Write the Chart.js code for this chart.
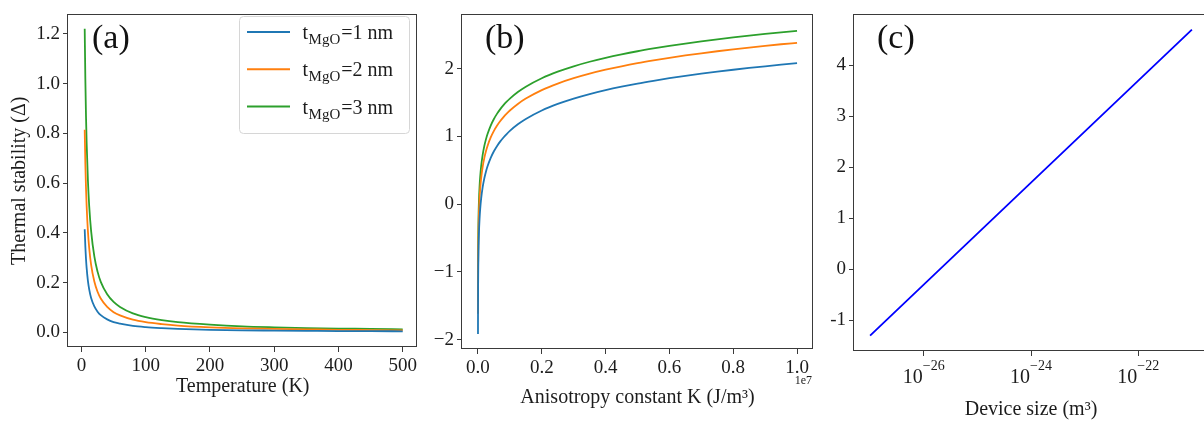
<!DOCTYPE html>
<html>
<head>
<meta charset="utf-8">
<script src="https://cdn.jsdelivr.net/npm/chart.js@4.4.1/dist/chart.umd.min.js"></script>
<style>
  html, body { margin: 0; padding: 0; background: #fff; overflow: hidden; }
  #wrap { position: relative; width: 1204px; height: 426px; }
  canvas { position: absolute; top: 0; }
</style>
</head>
<body>
<div id="wrap">
  <canvas id="panelA" width="420" height="426" style="left:0px"></canvas>
  <canvas id="panelB" width="400" height="426" style="left:420px"></canvas>
  <canvas id="panelC" width="392" height="426" style="left:820px"></canvas>
</div>
<script>
// ---- (a) thermal stability vs temperature ----
const temperatures = [5, 6, 7, 8, 10, 12, 15, 20, 25, 30, 40, 50, 60, 80, 100, 125, 150, 200, 250, 300, 350, 400, 450, 500];
const deltaT_1nm = [0.414, 0.345, 0.296, 0.259, 0.207, 0.173, 0.138, 0.104, 0.083, 0.069, 0.052, 0.041, 0.035, 0.026, 0.021, 0.017, 0.014, 0.010, 0.008, 0.007, 0.006, 0.005, 0.005, 0.004];
const deltaT_2nm = [0.814, 0.678, 0.581, 0.509, 0.407, 0.339, 0.271, 0.204, 0.163, 0.136, 0.102, 0.081, 0.068, 0.051, 0.041, 0.033, 0.027, 0.020, 0.016, 0.014, 0.012, 0.010, 0.009, 0.008];
const deltaT_3nm = [1.220, 1.017, 0.871, 0.763, 0.610, 0.508, 0.407, 0.305, 0.244, 0.203, 0.153, 0.122, 0.102, 0.076, 0.061, 0.049, 0.041, 0.031, 0.024, 0.020, 0.017, 0.015, 0.014, 0.012];
const tempTicks = [0, 100, 200, 300, 400, 500];
const tempTickLabels = ['0', '100', '200', '300', '400', '500'];
const deltaATicks = [0, 0.2, 0.4, 0.6, 0.8, 1.0, 1.2];
const deltaATickLabels = ['0.0', '0.2', '0.4', '0.6', '0.8', '1.0', '1.2'];

// ---- (b) thermal stability vs anisotropy constant ----
const anisotropyK = [1e3, 2e3, 5e3, 1e4, 2e4, 3e4, 5e4, 7e4, 1e5, 1.5e5, 2e5, 2.5e5, 3e5, 4e5, 5e5, 6e5, 7e5, 8e5, 9e5, 1e6,
                     1.25e6, 1.5e6, 2e6, 2.5e6, 3e6, 3.5e6, 4e6, 4.5e6, 5e6, 5.5e6, 6e6, 6.5e6, 7e6, 7.5e6, 8e6, 8.5e6, 9e6, 9.5e6, 1e7];
const deltaK_1nm = [-1.920, -1.619, -1.221, -0.920, -0.619, -0.443, -0.221, -0.075, 0.080, 0.256, 0.381, 0.478, 0.557, 0.682, 0.779, 0.858, 0.925, 0.983, 1.034, 1.080,
                    1.177, 1.256, 1.381, 1.478, 1.557, 1.624, 1.682, 1.733, 1.779, 1.820, 1.858, 1.893, 1.925, 1.955, 1.983, 2.009, 2.034, 2.058, 2.080];
const deltaK_2nm = [-1.619, -1.318, -0.920, -0.619, -0.318, -0.142, 0.080, 0.226, 0.381, 0.557, 0.682, 0.779, 0.858, 0.983, 1.080, 1.159, 1.226, 1.284, 1.335, 1.381,
                    1.478, 1.557, 1.682, 1.779, 1.858, 1.925, 1.983, 2.034, 2.080, 2.121, 2.159, 2.194, 2.226, 2.256, 2.284, 2.310, 2.335, 2.359, 2.381];
const deltaK_3nm = [-1.443, -1.142, -0.744, -0.443, -0.142, 0.034, 0.256, 0.402, 0.557, 0.733, 0.858, 0.955, 1.034, 1.159, 1.256, 1.335, 1.402, 1.460, 1.511, 1.557,
                    1.654, 1.733, 1.858, 1.955, 2.034, 2.101, 2.159, 2.210, 2.256, 2.297, 2.335, 2.370, 2.402, 2.432, 2.460, 2.486, 2.511, 2.535, 2.557];
const kTicks = [0, 2e6, 4e6, 6e6, 8e6, 1e7];
const kTickLabels = ['0.0', '0.2', '0.4', '0.6', '0.8', '1.0'];
const deltaBTicks = [-2, -1, 0, 1, 2];
const deltaBTickLabels = ['\u22122', '\u22121', '0', '1', '2'];

// ---- (c) thermal stability vs device volume ----
const deviceSizes = [1e-27, 1e-26, 1e-25, 1e-24, 1e-23, 1e-22, 1e-21];
const deltaSize = [-1.3, -0.3, 0.7, 1.7, 2.7, 3.7, 4.7];
const sizeTickExponents = [-26, -24, -22];
const deltaCTicks = [-1, 0, 1, 2, 3, 4];
const deltaCTickLabels = ['-1', '0', '1', '2', '3', '4'];

// legend text: t_MgO = n nm
const mgoThickness = [1, 2, 3];
const seriesColors = ['#1f77b4', '#ff7f0e', '#2ca02c'];

const serif = "'Liberation Serif', 'Times New Roman', serif";
const ink = '#1c1c1c';
const frameColor = '#3a3a3a';

Chart.defaults.font.family = serif;
Chart.defaults.color = ink;

function makeAxis(cfg) {
  const horizontal = cfg.axis === 'x';
  return {
    type: cfg.type || 'linear',
    position: horizontal ? 'bottom' : 'left',
    min: cfg.min,
    max: cfg.max,
    afterFit(scale) {
      if (horizontal) scale.height = cfg.size; else scale.width = cfg.size;
    },
    afterBuildTicks(scale) {
      scale.ticks = cfg.ticks.map(v => ({ value: v }));
    },
    ticks: {
      display: cfg.labels != null,
      callback: (v, i) => cfg.labels ? cfg.labels[i] : '',
      font: { family: serif, size: 19 },
      color: ink,
      padding: 3,
      maxRotation: 0,
      autoSkip: false
    },
    grid: { drawOnChartArea: false, tickLength: 5, color: frameColor, tickWidth: 1 },
    border: { display: false },
    title: cfg.title
      ? { display: true, text: cfg.title, font: { family: serif, size: 20 }, color: ink, padding: cfg.titlePad }
      : { display: false }
  };
}

function pairs(xs, ys) {
  return xs.map((x, i) => ({ x: x, y: ys[i] }));
}

function lineSet(xs, ys, color, smooth) {
  return {
    data: pairs(xs, ys),
    borderColor: color,
    borderWidth: 1.8,
    pointRadius: 0,
    fill: false,
    cubicInterpolationMode: smooth ? 'monotone' : 'default',
    tension: 0
  };
}

// box around the plot area, matplotlib style
const framePlugin = {
  id: 'frame',
  afterDatasetsDraw(chart) {
    const { ctx, chartArea: a } = chart;
    const l = Math.round(a.left), t = Math.round(a.top), r = Math.round(a.right), b = Math.round(a.bottom);
    ctx.save();
    ctx.strokeStyle = frameColor;
    ctx.lineWidth = 1;
    ctx.strokeRect(l - 0.5, t + 0.5, r - l, b - t - 1);
    ctx.restore();
  }
};

// "(a)", "(b)", "(c)" tags
const tagPlugin = {
  id: 'tag',
  afterDraw(chart, args, opts) {
    const { ctx } = chart;
    ctx.save();
    ctx.font = '34px ' + serif;
    ctx.fillStyle = '#111';
    ctx.textBaseline = 'alphabetic';
    ctx.fillText(opts.text, opts.x, opts.y);
    ctx.restore();
  }
};

// legend with MgO subscript for panel (a)
const subLegendPlugin = {
  id: 'subLegend',
  afterDraw(chart) {
    const { ctx } = chart;
    const box = { x: 239.5, y: 16.5, w: 170, h: 117 };
    ctx.save();
    ctx.beginPath();
    ctx.roundRect(box.x, box.y, box.w, box.h, 4);
    ctx.fillStyle = 'rgba(255,255,255,0.85)';
    ctx.fill();
    ctx.strokeStyle = '#d6d6d6';
    ctx.lineWidth = 1;
    ctx.stroke();
    chart.data.datasets.forEach((ds, i) => {
      const rowY = 32 + i * 37.3;
      ctx.strokeStyle = ds.borderColor;
      ctx.lineWidth = 2;
      ctx.beginPath();
      ctx.moveTo(247, rowY);
      ctx.lineTo(290, rowY);
      ctx.stroke();
      ctx.fillStyle = ink;
      ctx.textBaseline = 'alphabetic';
      let x = 302.5;
      ctx.font = '20px ' + serif;
      ctx.fillText('t', x, rowY + 7);
      x += ctx.measureText('t').width + 0.5;
      ctx.font = '15px ' + serif;
      ctx.fillText('MgO', x, rowY + 12);
      x += ctx.measureText('MgO').width + 1;
      ctx.font = '20px ' + serif;
      ctx.fillText('=' + mgoThickness[i] + ' nm', x, rowY + 7);
    });
    ctx.restore();
  }
};

// "1e7" offset text under the x axis of panel (b)
const offsetPlugin = {
  id: 'offsetText',
  afterDraw(chart) {
    const { ctx, chartArea: a } = chart;
    ctx.save();
    ctx.font = '12px ' + serif;
    ctx.fillStyle = ink;
    ctx.textAlign = 'right';
    ctx.textBaseline = 'alphabetic';
    ctx.fillText('1e7', a.right - 1, 384);
    ctx.restore();
  }
};

// 10^n tick labels for the log axis of panel (c)
const powerTickPlugin = {
  id: 'powerTicks',
  afterDraw(chart) {
    const { ctx } = chart;
    const scale = chart.scales.x;
    ctx.save();
    ctx.fillStyle = ink;
    ctx.textBaseline = 'alphabetic';
    sizeTickExponents.forEach(e => {
      const px = scale.getPixelForValue(Math.pow(10, e));
      const sup = '\u2212' + Math.abs(e);
      ctx.font = '20px ' + serif;
      const wBase = ctx.measureText('10').width;
      ctx.font = '14px ' + serif;
      const wSup = ctx.measureText(sup).width;
      const x0 = px - (wBase + wSup) / 2;
      ctx.font = '20px ' + serif;
      ctx.fillText('10', x0, 383);
      ctx.font = '14px ' + serif;
      ctx.fillText(sup, x0 + wBase, 370);
    });
    ctx.restore();
  }
};

const common = {
  responsive: false,
  animation: false,
  devicePixelRatio: 1,
  events: []
};

new Chart(document.getElementById('panelA'), {
  type: 'line',
  data: {
    datasets: [
      lineSet(temperatures, deltaT_1nm, seriesColors[0], true),
      lineSet(temperatures, deltaT_2nm, seriesColors[1], true),
      lineSet(temperatures, deltaT_3nm, seriesColors[2], true)
    ]
  },
  options: {
    ...common,
    layout: { padding: { top: 5, right: 1, left: 0, bottom: 0 } },
    scales: {
      x: makeAxis({ axis: 'x', min: -21, max: 523, size: 79, ticks: tempTicks, labels: tempTickLabels,
                    title: 'Temperature (K)', titlePad: { top: 0, bottom: 27 } }),
      y: makeAxis({ axis: 'y', min: -0.059, max: 1.278, size: 68, ticks: deltaATicks, labels: deltaATickLabels,
                    title: 'Thermal stability (\u0394)', titlePad: { top: 8, bottom: 0 } })
    },
    plugins: {
      legend: { display: false },
      tooltip: { enabled: false },
      tag: { text: '(a)', x: 92, y: 48 }
    }
  },
  plugins: [framePlugin, tagPlugin, subLegendPlugin]
});

new Chart(document.getElementById('panelB'), {
  type: 'line',
  data: {
    datasets: [
      lineSet(anisotropyK, deltaK_1nm, seriesColors[0], true),
      lineSet(anisotropyK, deltaK_2nm, seriesColors[1], true),
      lineSet(anisotropyK, deltaK_3nm, seriesColors[2], true)
    ]
  },
  options: {
    ...common,
    layout: { padding: { top: 5, right: 7, left: 0, bottom: 0 } },
    scales: {
      x: makeAxis({ axis: 'x', min: -5e5, max: 1.05e7, size: 77, ticks: kTicks, labels: kTickLabels,
                    title: 'Anisotropy constant K (J/m\u00b3)', titlePad: { top: 0, bottom: 16 } }),
      y: makeAxis({ axis: 'y', min: -2.14, max: 2.80, size: 42, ticks: deltaBTicks, labels: deltaBTickLabels })
    },
    plugins: {
      legend: { display: false },
      tooltip: { enabled: false },
      tag: { text: '(b)', x: 65, y: 48 }
    }
  },
  plugins: [framePlugin, tagPlugin, offsetPlugin]
});

new Chart(document.getElementById('panelC'), {
  type: 'line',
  data: {
    datasets: [lineSet(deviceSizes, deltaSize, '#0000ff', false)]
  },
  options: {
    ...common,
    layout: { padding: { top: 5, right: 4, left: 0, bottom: 0 } },
    scales: {
      x: makeAxis({ axis: 'x', type: 'logarithmic', min: Math.pow(10, -27.3), max: Math.pow(10, -20.7), size: 75,
                    ticks: sizeTickExponents.map(e => Math.pow(10, e)), labels: null,
                    title: 'Device size (m\u00b3)', titlePad: { top: 0, bottom: 4 } }),
      y: makeAxis({ axis: 'y', min: -1.6, max: 5.0, size: 34, ticks: deltaCTicks, labels: deltaCTickLabels })
    },
    plugins: {
      legend: { display: false },
      tooltip: { enabled: false },
      tag: { text: '(c)', x: 57, y: 48 }
    }
  },
  plugins: [framePlugin, tagPlugin, powerTickPlugin]
});
</script>
</body>
</html>
